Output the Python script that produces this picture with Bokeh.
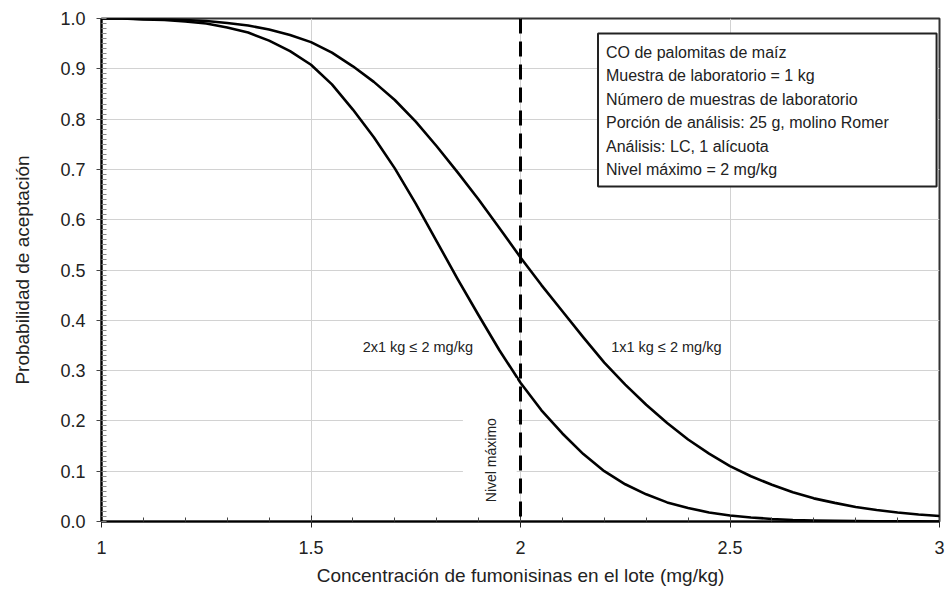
from math import pi
from bokeh.plotting import figure
from bokeh.models import (Span, Label, BoxAnnotation, SingleIntervalTicker,
                          NumeralTickFormatter)
from bokeh.embed import file_html
from bokeh.resources import INLINE

# ---------------- data ----------------
conc = [1.00, 1.05, 1.10, 1.15, 1.20, 1.25, 1.30, 1.35, 1.40, 1.45, 1.50,
        1.55, 1.60, 1.65, 1.70, 1.75, 1.80, 1.85, 1.90, 1.95, 2.00,
        2.05, 2.10, 2.15, 2.20, 2.25, 2.30, 2.35, 2.40, 2.45, 2.50,
        2.55, 2.60, 2.65, 2.70, 2.75, 2.80, 2.85, 2.90, 2.95, 3.00]

prob_1x1 = [1.000, 1.000, 0.999, 0.999, 0.997, 0.995, 0.991, 0.986, 0.978, 0.967, 0.953,
            0.932, 0.905, 0.874, 0.838, 0.795, 0.746, 0.694, 0.640, 0.583, 0.525,
            0.470, 0.418, 0.366, 0.316, 0.272, 0.232, 0.196, 0.163, 0.135, 0.110,
            0.090, 0.073, 0.058, 0.046, 0.037, 0.029, 0.023, 0.018, 0.014, 0.011]

prob_2x1 = [1.000, 1.000, 0.998, 0.997, 0.994, 0.990, 0.982, 0.972, 0.956, 0.935, 0.908,
            0.869, 0.819, 0.764, 0.702, 0.632, 0.557, 0.482, 0.410, 0.340, 0.276,
            0.221, 0.175, 0.134, 0.100, 0.074, 0.054, 0.038, 0.027, 0.018, 0.012,
            0.008, 0.005, 0.003, 0.002, 0.0014, 0.0008, 0.0005, 0.0003, 0.0002, 0.0001]

x_ticks = [1, 1.5, 2, 2.5, 3]
x_tick_labels = ["1", "1.5", "2", "2.5", "3"]
max_level = 2.0

curve_labels = ["1x1 kg \u2264 2 mg/kg", "2x1 kg \u2264 2 mg/kg"]
max_level_label = "Nivel m\u00e1ximo"
info_lines = [
    "CO de palomitas de ma\u00edz",
    "Muestra de laboratorio = 1 kg",
    "N\u00famero de muestras de laboratorio",
    "Porci\u00f3n de an\u00e1lisis: 25 g, molino Romer",
    "An\u00e1lisis: LC, 1 al\u00edcuota",
    "Nivel m\u00e1ximo = 2 mg/kg",
]
x_title = "Concentraci\u00f3n de fumonisinas en el lote (mg/kg)"
y_title = "Probabilidad de aceptaci\u00f3n"

# ---------------- figure ----------------
FONT = "Liberation Sans"
TXT = "#222222"

p = figure(width=946, height=592, x_range=(1, 3), y_range=(0, 1),
           output_backend="svg", toolbar_location=None,
           min_border_left=101, min_border_right=7,
           min_border_top=18, min_border_bottom=71)

p.background_fill_color = "white"
p.border_fill_color = "white"
p.outline_line_color = "#333333"
p.outline_line_width = 2

# grids
p.xgrid.grid_line_color = "#d2d2d2"
p.ygrid.grid_line_color = "#d2d2d2"
p.xgrid.grid_line_width = 1
p.ygrid.grid_line_width = 1

# x axis
xax = p.xaxis[0]
xax.ticker = SingleIntervalTicker(interval=0.5, num_minor_ticks=5)
xax.major_label_overrides = {t: lab for t, lab in zip(x_ticks, x_tick_labels)}
xax.axis_label = x_title
xax.axis_line_color = "black"
xax.axis_line_width = 2
xax.major_tick_in = 6
xax.major_tick_out = 6
xax.minor_tick_in = 4
xax.minor_tick_out = 0
xax.major_tick_line_color = "#222222"
xax.minor_tick_line_color = "#444444"
xax.major_label_standoff = 13
xax.major_label_text_font = FONT
xax.major_label_text_font_size = "18px"
xax.major_label_text_color = TXT
xax.axis_label_text_font = FONT
xax.axis_label_text_font_size = "19px"
xax.axis_label_text_font_style = "normal"
xax.axis_label_text_color = TXT
xax.axis_label_standoff = 8

# y axis
yax = p.yaxis[0]
yax.ticker = SingleIntervalTicker(interval=0.1, num_minor_ticks=10)
yax.formatter = NumeralTickFormatter(format="0.0")
yax.axis_label = y_title
yax.axis_line_color = "black"
yax.axis_line_width = 2
yax.major_tick_in = 0
yax.major_tick_out = 5
yax.minor_tick_in = 5
yax.minor_tick_out = 0
yax.major_tick_line_color = "#444444"
yax.minor_tick_line_color = "#888888"
yax.major_label_standoff = 11
yax.major_label_text_font = FONT
yax.major_label_text_font_size = "18px"
yax.major_label_text_color = TXT
yax.axis_label_text_font = FONT
yax.axis_label_text_font_size = "19px"
yax.axis_label_text_font_style = "normal"
yax.axis_label_text_color = TXT
yax.axis_label_standoff = 24

# curves
p.line(conc, prob_1x1, line_color="black", line_width=2.6, line_join="round")
p.line(conc, prob_2x1, line_color="black", line_width=2.6, line_join="round")

# white background behind the vertical "Nivel maximo" note
p.add_layout(BoxAnnotation(left=1.8626, right=1.991, bottom=0.012, top=0.285,
                           fill_color="white", fill_alpha=1.0, line_alpha=0))
p.add_layout(Label(x=1.9295, y=0.122, text=max_level_label, angle=pi / 2,
                   text_align="center", text_baseline="middle",
                   text_font=FONT, text_font_size="14px", text_color=TXT))

# maximum level line
p.add_layout(Span(location=max_level, dimension="height", line_color="black",
                  line_width=3, line_dash="15 8"))

# curve labels
p.add_layout(Label(x=2.348, y=0.346, text=curve_labels[0],
                   text_align="center", text_baseline="middle",
                   text_font=FONT, text_font_size="14.5px", text_color=TXT))
p.add_layout(Label(x=1.755, y=0.346, text=curve_labels[1],
                   text_align="center", text_baseline="middle",
                   text_font=FONT, text_font_size="14.5px", text_color=TXT))

# info box
p.add_layout(BoxAnnotation(left=2.185, right=2.993, top=0.970, bottom=0.666,
                           fill_color="white", fill_alpha=1.0,
                           line_color="#222222", line_alpha=1.0, line_width=2))
for i, line in enumerate(info_lines):
    py = 52 + 23.4 * i
    p.add_layout(Label(x=2.204, y=(521 - py) / 503, text=line,
                       text_align="left", text_baseline="middle",
                       text_font=FONT, text_font_size="16px", text_color=TXT))

open("out.html", "w").write(file_html(p, INLINE))
